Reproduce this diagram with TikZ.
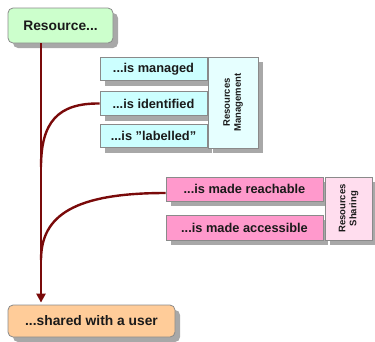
\documentclass[tikz,border=0pt]{standalone}
\usepackage{fontspec}
\setmainfont{Liberation Sans}
\usetikzlibrary{shadows,calc,arrows.meta}
\definecolor{boxgreen}{HTML}{CCFFCC}
\definecolor{boxorange}{HTML}{FFCC99}
\definecolor{boxcyan}{HTML}{CCFFFF}
\definecolor{boxpalecyan}{HTML}{E6FFFF}
\definecolor{boxpink}{HTML}{FF99CC}
\definecolor{boxpalepink}{HTML}{FFDDEE}
\definecolor{linkred}{HTML}{7A0A0A}
\definecolor{shadowgray}{HTML}{A8A8A8}
\definecolor{bordergray}{HTML}{8A8A8A}
\definecolor{textgray}{HTML}{1A1A1A}
\tikzset{
  boxbase/.style={draw=bordergray, line width=0.8pt, inner sep=0pt, text=textgray,
    drop shadow={shadow xshift=5pt, shadow yshift=-5pt, fill=shadowgray, opacity=1},
    font=\fontsize{12.8}{15}\selectfont\bfseries},
  endbox/.style={boxbase, rounded corners=5pt, font=\fontsize{13.8}{16}\selectfont\bfseries},
  itembox/.style={boxbase},
  groupbox/.style={boxbase, font=\fontsize{9.5}{11}\selectfont\bfseries, align=center},
  link/.style={draw=linkred, line width=2.4pt},
}
\begin{document}
\begin{tikzpicture}[x=1pt,y=-1pt]
\useasboundingbox (0,0) rectangle (375,341);
\node[endbox, fill=boxgreen, minimum width=105pt, minimum height=35pt] (res) at (60.5,25.5) {Resource...};
\node[endbox, fill=boxorange, minimum width=167pt, minimum height=32pt] (usr) at (91.5,321) {...shared with a user};
\node[itembox, fill=boxcyan, minimum width=107pt, minimum height=23pt] (man) at (153.5,69) {...is managed};
\node[itembox, fill=boxcyan, minimum width=107pt, minimum height=24pt] (ide) at (153.5,103.5) {...is identified};
\node[itembox, fill=boxcyan, minimum width=107pt, minimum height=23pt] (lab) at (153.5,136) {...is \symbol{34}labelled\symbol{34}};
\node[groupbox, fill=boxpalecyan, minimum width=91pt, minimum height=50pt, rotate=90] (rm) at (233,102.5) {Resources\\Management};
\node[itembox, fill=boxpink, minimum width=157pt, minimum height=24pt] (rea) at (244.5,189) {...is made reachable};
\node[itembox, fill=boxpink, minimum width=157pt, minimum height=25pt] (acc) at (244.5,227.5) {...is made accessible};
\node[groupbox, fill=boxpalepink, minimum width=63pt, minimum height=47pt, rotate=90] (rs) at (348.5,208.5) {Resources\\Sharing};
\coordinate (j1) at (41,167);
\coordinate (j2) at (41,260);
\draw[link, -{Triangle[length=9pt,width=9pt]}] (res.south -| j1) -- ($(usr.north -| j1)+(0,-2)$);
\draw[link] (ide.west) .. controls (58,103) and (41,122) .. (j1);
\draw[link] ($(rea.west)+(0,4)$) .. controls (75,193) and (41,215) .. (j2);
\end{tikzpicture}
\end{document}
